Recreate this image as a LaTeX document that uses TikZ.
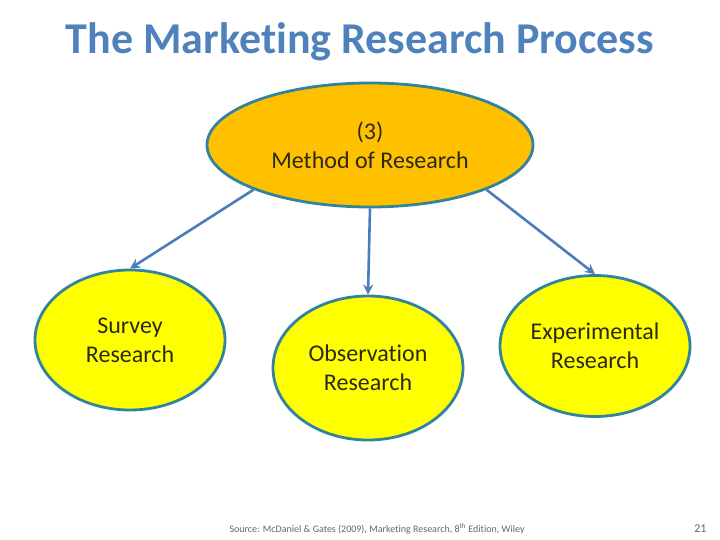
\documentclass[tikz,border=0pt]{standalone}
\usepackage{fontspec}
\setmainfont[Ligatures=NoCommon]{Carlito}
\usetikzlibrary{shapes.geometric,arrows.meta}
\definecolor{titleblue}{HTML}{4F81BD}
\definecolor{edgeteal}{HTML}{31849B}
\definecolor{arrowblue}{HTML}{4A7EBB}
\definecolor{orangefill}{HTML}{FFC000}
\definecolor{yellowfill}{HTML}{FFFF00}
\definecolor{txt}{HTML}{2A2A1A}
\tikzset{
  bubble/.style={ellipse, draw=edgeteal, line width=2.8pt, inner sep=0pt, align=center,
    text=txt, font=\fontsize{24}{29}\selectfont},
  conn/.style={draw=arrowblue, line width=2.6pt, -{Stealth[length=10pt,width=10pt]}}
}
\begin{document}
\begin{tikzpicture}[x=1pt,y=-1pt]
\useasboundingbox (0,0) rectangle (720,540);
\node[font=\fontsize{44}{46}\selectfont\bfseries, text=titleblue] (title) at (360,42) {The Marketing Research Process};
\node[bubble, fill=orangefill, minimum width=326pt, minimum height=124pt] (top) at (370,145) {(3)\\Method of Research};
\node[bubble, fill=yellowfill, minimum width=190pt, minimum height=140pt] (survey) at (130,340) {Survey\\Research};
\node[bubble, fill=yellowfill, minimum width=190pt, minimum height=144pt] (obs) at (368,368) {Observation\\Research};
\node[bubble, fill=yellowfill, minimum width=190pt, minimum height=141pt] (exp) at (595,346) {Experimental\\Research};
\draw[conn] (top.201) -- (survey.north);
\draw[conn] (top.south) -- (obs.north);
\draw[conn] (top.339) -- (exp.north);
\node[anchor=west, font=\fontsize{10}{11}\selectfont, text=black!60] (src) at (226,529) {Source: McDaniel \& Gates (2009), Marketing Research, 8\textsuperscript{th} Edition, Wiley};
\node[anchor=east, font=\fontsize{12}{12}\selectfont, text=black!60] (pg) at (710,529) {21};
\end{tikzpicture}
\end{document}
